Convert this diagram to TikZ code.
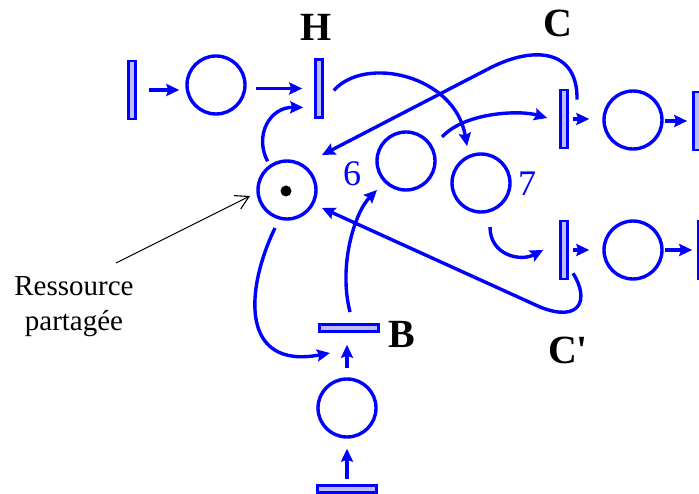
\documentclass[tikz,border=0pt]{standalone}
\usepackage{fontspec}
\setmainfont{Liberation Serif}
\newfontfamily\tnr{Liberation Serif}
\usetikzlibrary{arrows.meta,calc}
\definecolor{pnblue}{RGB}{0,0,255}
\definecolor{barfill}{RGB}{190,190,255}
\begin{document}
\begin{tikzpicture}[x=1pt,y=-1pt,
  place/.style={circle, draw=pnblue, line width=3.4pt, minimum size=58pt, inner sep=0pt},
  trans/.style={rectangle, draw=pnblue, fill=barfill, line width=2.6pt, minimum width=7pt, minimum height=58pt, inner sep=0pt},
  htrans/.style={trans, minimum width=59pt, minimum height=7pt},
  arc/.style={draw=pnblue, line width=3.4pt, -{Stealth[length=13pt,width=12pt,inset=2pt]}},
  lbl/.style={font=\tnr\bfseries\fontsize{40}{40}\selectfont, text=black, inner sep=0pt},
  num/.style={font=\tnr\fontsize{36}{36}\selectfont, text=pnblue, inner sep=0pt}]
\fill[white] (0,0) rectangle (699,494);
\useasboundingbox (0,0) rectangle (699,494);

% transitions
\node[trans] (t0) at (132,90) {};
\node[trans] (h) at (319,88.5) {};
\node[trans] (tc) at (564,119) {};
\node[trans] (tcp) at (564,250) {};
\node[trans] (tr1) at (697,121) {};
\node[trans] (tr2) at (702,250) {};
\node[htrans] (b) at (349,328) {};
\node[htrans] (tb) at (347,489) {};

% places
\node[place] (p1) at (216,85) {};
\node[place] (R) at (287,190) {};
\node[place] (p6) at (406,161) {};
\node[place] (p7) at (481,183) {};
\node[place] (pc) at (633,120) {};
\node[place] (pcp) at (633,250) {};
\node[place] (pb) at (347,408) {};
\node[circle, fill=black, minimum size=11pt, inner sep=0pt] (tok) at (286,191) {};

% labels
\node[lbl] (lH) at (316,27) {H};
\node[lbl] (lC) at (558,23) {C};
\node[lbl] (lCp) at (568,350) {C\textquotesingle};
\node[lbl] (lB) at (402,334) {B};
\node[num] (l6) at (352,174) {6};
\node[num] (l7) at (527,184) {7};
\node[anchor=north, inner sep=0pt, align=center, font=\tnr\fontsize{29}{35}\selectfont] (ann) at (74,276) {Ressource\\partagée};
\coordinate (annstart) at (116,263);

% straight arcs
\draw[arc, shorten <=12pt, shorten >=6pt] (t0.east) -- (t0.east -| p1.west);
\draw[arc, shorten <=9pt, shorten >=12pt] (p1.east |- h.west) -- (h.west);
\draw[arc, shorten <=4pt, shorten >=13pt] (tc.east) -- (tc.east -| pc.west);
\draw[arc, shorten <=1pt, shorten >=5pt] (pc.east |- tr1.west) -- (tr1.west);
\draw[arc, shorten <=4pt, shorten >=13pt] (tcp.east) -- (tcp.east -| pcp.west);
\draw[arc, shorten <=1pt, shorten >=5pt] (pcp.east |- tr2.west) -- (tr2.west);
\draw[arc, shorten <=9pt, shorten >=12pt] (pb.north) -- (pb.north |- b.south);
\draw[arc, shorten <=5pt, shorten >=10pt] (tb.north) -- (tb.north |- pb.south);

% curved arcs
\draw[arc, shorten <=4pt] (R.125) .. controls (254,135) and (270,107) .. ([xshift=-11pt,yshift=-19pt]h.west);
\draw[arc, shorten >=9pt] ([xshift=10pt,yshift=-2pt]h.east) .. controls (365,55) and (455,75) .. (p7.114);
\draw[arc] ([xshift=36pt,yshift=24pt]p6.center) .. controls (465,112) and (520,110) .. ([xshift=-12pt,yshift=1pt]tc.west);
\draw[arc] ([xshift=13pt,yshift=-11pt]tc.north) .. controls (578,50) and (535,45) .. (490,68) -- ([xshift=35pt,yshift=35pt]R.center);
\draw[arc] ([xshift=9pt,yshift=-44pt]p7.center) .. controls (490,255) and (520,262) .. ([xshift=-16pt]tcp.west);
\draw[arc] ([xshift=9pt,yshift=7pt]tcp.south) .. controls (590,300) and (580,323) .. (540,307) -- ([xshift=35pt,yshift=-18pt]R.center);
\draw[arc] ([xshift=1pt,yshift=16pt]b.center) .. controls (338,265) and (355,212) .. ([xshift=-29pt,yshift=-29pt]p6.center);
\draw[arc] ([xshift=-12pt,yshift=-38pt]R.center) .. controls (245,290) and (240,370) .. ([xshift=-19pt,yshift=-25pt]b.center);

% annotation
\draw[black, line width=1.1pt, -{Straight Barb[length=13pt,width=15pt,line width=1.1pt]}] (annstart) -- ([xshift=-37pt,yshift=-6pt]R.center);
\end{tikzpicture}
\end{document}
